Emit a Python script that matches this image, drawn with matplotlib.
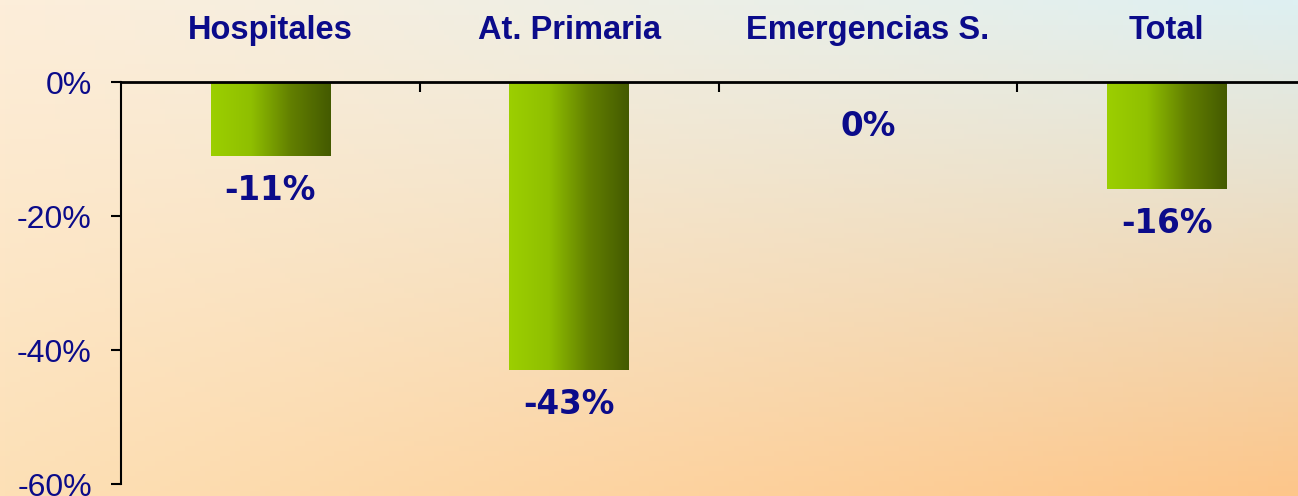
import numpy as np
import matplotlib
matplotlib.use("Agg")
import matplotlib.pyplot as plt
from matplotlib.colors import LinearSegmentedColormap
from matplotlib.ticker import FuncFormatter

categorias = ["Hospitales", "At. Primaria", "Emergencias S.", "Total"]
variacion = [-11, -43, 0, -16]
etiquetas = ["-11%", "-43%", "0%", "-16%"]
yticks = [0, -20, -40, -60]

navy = "#0b0b8a"
plt.rcParams['font.family'] = ['Liberation Sans', 'DejaVu Sans']

fig = plt.figure(figsize=(12.98, 4.96), dpi=100)

# fondo degradado
bg = fig.add_axes([0, 0, 1, 1], zorder=0)
h, w = 100, 260
yy, xx = np.mgrid[0:1:h*1j, 0:1:w*1j]
c_tl = np.array([253, 238, 218]) / 255
c_tr = np.array([222, 240, 242]) / 255
c_bl = np.array([253, 224, 182]) / 255
c_br = np.array([253, 198, 138]) / 255
img = ((1-yy)[..., None]*((1-xx)[..., None]*c_tl + xx[..., None]*c_tr)
       + yy[..., None]*((1-xx)[..., None]*c_bl + xx[..., None]*c_br))
bg.imshow(np.clip(img, 0, 1), aspect="auto", extent=[0, 1, 0, 1])
bg.axis("off")

ax = fig.add_axes([121/1298, 12/496, 1195/1298, 402/496], zorder=1)
ax.patch.set_alpha(0)

x = np.arange(len(categorias))
bars = ax.bar(x, variacion, width=0.4, color="none", edgecolor="none")

cmap = LinearSegmentedColormap.from_list("verde", ["#9ccf00", "#8fbf00", "#627f00", "#445a00"])
grad = np.linspace(0, 1, 256).reshape(1, -1)
for b in bars:
    if b.get_height() == 0:
        continue
    x0, x1 = b.get_x(), b.get_x() + b.get_width()
    y0, y1 = b.get_y(), b.get_y() + b.get_height()
    ax.imshow(grad, cmap=cmap, aspect="auto", extent=[x0, x1, min(y0, y1), max(y0, y1)], zorder=2)

for xi, v, lab in zip(x, variacion, etiquetas):
    off = -54 if v == 0 else -44
    ax.annotate(lab, (xi, v), xytext=(0, off), textcoords="offset pixels",
                ha="center", va="baseline", fontsize=23.5, fontweight="bold", color=navy,
                family="DejaVu Sans")

for xi, cat in zip(x, categorias):
    ax.text(xi, 1.107, cat, transform=ax.get_xaxis_transform(), ha="center", va="baseline",
            fontsize=23.5, fontweight="bold", color=navy)

ax.set_xlim(-0.5, 3.5)
ax.set_ylim(-60, 0)
ax.set_yticks(yticks)
ax.yaxis.set_major_formatter(FuncFormatter(lambda v, p: f"{v:.0f}%"))
ax.tick_params(axis="y", direction="out", length=7, width=1.5, labelsize=23, labelcolor=navy, pad=14)
ax.set_xticks([0.5, 1.5, 2.5])
ax.xaxis.tick_top()
ax.tick_params(axis="x", direction="in", length=7, width=1.5, labeltop=False, labelbottom=False)
for s in ["bottom", "right"]:
    ax.spines[s].set_visible(False)
ax.spines["top"].set_linewidth(2)
ax.spines["left"].set_linewidth(1.5)

fig.savefig("out.png", dpi=100)
